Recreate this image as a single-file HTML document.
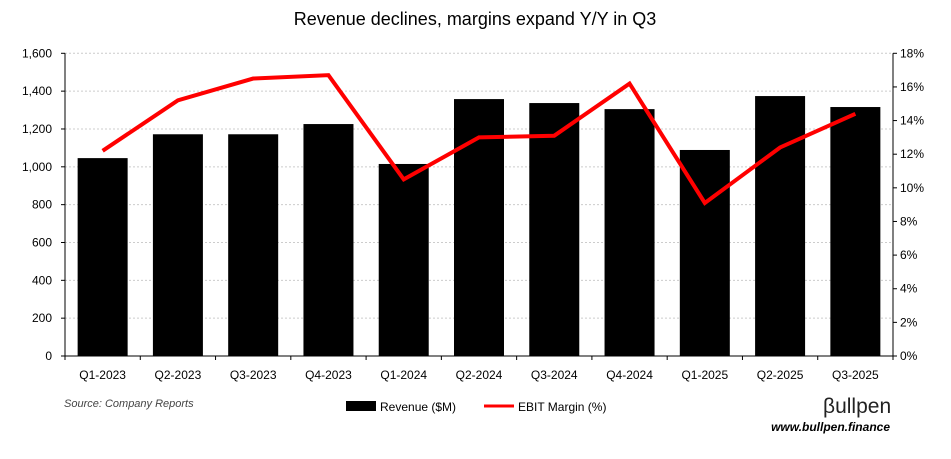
<!DOCTYPE html>
<html><head><meta charset="utf-8"><style>
body{margin:0;background:#fff;width:951px;height:454px;overflow:hidden;font-family:"Liberation Sans",sans-serif}
</style></head><body>
<svg id="chart" width="951" height="454" font-family="Liberation Sans, sans-serif">
<text x="475" y="25" text-anchor="middle" font-size="18">Revenue declines, margins expand Y/Y in Q3</text>
<g id="grid"></g><g id="bars"></g><g id="axes"></g><g id="line"></g>
<text x="64" y="407" font-size="11" font-style="italic" fill="#444">Source: Company Reports</text>
<g>
<rect x="346" y="401" width="30" height="10" fill="#000"></rect>
<text x="380" y="411" font-size="12">Revenue ($M)</text>
<line x1="484" y1="406" x2="514" y2="406" stroke="#f00" stroke-width="3"></line>
<text x="518" y="411" font-size="12">EBIT Margin (%)</text>
</g>
<text x="823" y="413" font-size="21" fill="#222">βullpen</text>
<text x="890" y="431" text-anchor="end" font-size="12" font-weight="bold" font-style="italic">www.bullpen.finance</text>
</svg>
<script>
const categories=["Q1-2023","Q2-2023","Q3-2023","Q4-2023","Q1-2024","Q2-2024","Q3-2024","Q4-2024","Q1-2025","Q2-2025","Q3-2025"];
const revenue=[1046,1172,1172,1226,1015,1358,1337,1305,1089,1374,1316];
const margin=[12.2,15.2,16.5,16.7,10.5,13.0,13.1,16.2,9.1,12.4,14.4];
const leftTicks=[0,200,400,600,800,1000,1200,1400,1600];
const rightTicks=[0,2,4,6,8,10,12,14,16,18];
const NS="http://www.w3.org/2000/svg";
const X0=65,X1=893,Y0=356,Y1=53.3;
const band=(X1-X0)/categories.length;
const xc=i=>X0+band*(i+0.5);
const yL=v=>Y0-(v/1600)*(Y0-Y1);
const yR=v=>Y0-(v/18)*(Y0-Y1);
function mk(tag,attrs,parent,text){const e=document.createElementNS(NS,tag);for(const k in attrs)e.setAttribute(k,attrs[k]);if(text!==undefined)e.textContent=text;document.getElementById(parent).appendChild(e);return e;}
leftTicks.forEach(t=>{
 const y=yL(t);
 if(t>0){const g=mk("line",{x1:X0,x2:X1,y1:y,y2:y,stroke:"#ccc","stroke-dasharray":"2,2"},"grid");
 
 }
 const tk=mk("line",{x1:X0-4,x2:X0,y1:y,y2:y,stroke:"#000"},"axes");
 
 
 const l=mk("text",{x:X0-13,y:y+4,"text-anchor":"end","font-size":"12"},"axes",t.toLocaleString("en-US"));
 
 
});
rightTicks.forEach(t=>{
 const y=yR(t);
 const tk=mk("line",{x1:X1,x2:X1+4,y1:y,y2:y,stroke:"#000"},"axes");
 
 
 const l=mk("text",{x:X1+7,y:y+4,"font-size":"12"},"axes",t+"%");
 
 
});
const ax=mk("path",{d:`M${X0},${Y1}V${Y0}H${X1}V${Y1}`,stroke:"#000",fill:"none"},"axes");


for(let i=0;i<=categories.length;i++){
 const x=X0+band*i;
 const tk=mk("line",{x1:x,x2:x,y1:Y0,y2:Y0+4,stroke:"#000"},"axes");
 
 
}
categories.forEach((c,i)=>{
 const b=mk("rect",{x:xc(i)-25,y:yL(revenue[i]),width:50,height:Y0-yL(revenue[i]),fill:"#000"},"bars");
 
 
 const l=mk("text",{x:xc(i),y:Y0+23,"text-anchor":"middle","font-size":"12"},"axes",c);
 
 
});
const p=mk("polyline",{points:margin.map((m,i)=>xc(i)+","+yR(m)).join(" "),fill:"none",stroke:"#f00","stroke-width":"4","stroke-linejoin":"miter"},"line");


</script>
</body></html>
